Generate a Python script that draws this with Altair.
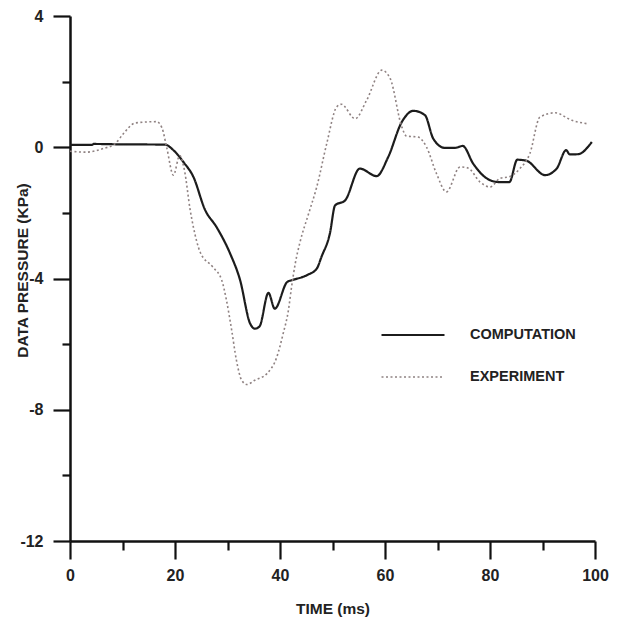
import altair as alt
import pandas as pd

# ---- data ----
comp_t = [0, 4.2, 4.5, 9, 18.1, 19.7, 21.6, 23.5, 25.7, 27.9, 30.5, 32.4, 34.3, 35.2, 36.1,
          37.8, 39.0, 41.4, 42.3, 45.1, 47.0, 47.9, 49.5, 50.5, 52.4, 55.2, 58.4, 60.6,
          63.2, 65.4, 67.6, 69.2, 71.4, 73.3, 74.8, 76.8, 79.4, 81.6, 83.7, 85.2, 86.9,
          90.5, 92.7, 94.5, 95.2, 96.8, 99.4]
comp_v = [0.07, 0.07, 0.1, 0.09, 0.08, -0.09, -0.45, -0.9, -1.9, -2.43, -3.24, -4.05, -5.37,
          -5.53, -5.46, -4.44, -4.92, -4.1, -4.05, -3.9, -3.7, -3.34, -2.63, -1.77, -1.62,
          -0.65, -0.88, -0.3, 0.77, 1.11, 0.98, 0.26, -0.02, -0.02, 0.04, -0.5, -0.95,
          -1.06, -1.06, -0.38, -0.41, -0.85, -0.65, -0.09, -0.22, -0.21, 0.16]

exp_t = [0, 3, 6.3, 8.6, 10.2, 12.4, 16.5, 17.5, 18.4, 19.7, 20.9, 21.8, 22.9, 23.5, 24.8,
         27.2, 28.9, 29.8, 30.8, 31.7, 32.7, 33.7, 35.2, 37.5, 39.4, 40.6, 41.6, 42.2,
         42.9, 43.8, 45.5, 47.0, 48.9, 50.8, 51.7, 54.3, 56.5, 59.4, 61.0, 63.2, 64.1,
         66.3, 67.9, 69.8, 71.7, 74.3, 75.8, 78.1, 80.0, 81.9, 83.8, 85.7, 87.6, 89.5,
         92.4, 95.6, 98.4]
exp_v = [-0.12, -0.15, -0.04, 0.11, 0.42, 0.74, 0.78, 0.6, 0.01, -0.85, -0.25, -0.7, -1.92,
         -2.43, -3.2, -3.65, -4.05, -4.66, -5.58, -6.49, -7.1, -7.23, -7.1, -6.9, -6.39,
         -5.68, -4.97, -4.26, -3.55, -2.9, -2.0, -1.21, 0.11, 1.23, 1.31, 0.87, 1.43, 2.35,
         2.09, 0.62, 0.34, 0.31, 0.01, -0.8, -1.36, -0.6, -0.63, -1.06, -1.21, -0.95,
         -0.89, -0.65, -0.19, 0.92, 1.05, 0.82, 0.72]

series_names = ["COMPUTATION", "EXPERIMENT"]
x_ticks = [0, 10, 20, 30, 40, 50, 60, 70, 80, 90, 100]
y_ticks = [4, 2, 0, -2, -4, -6, -8, -10, -12]

rows = []
for i, (t, v) in enumerate(zip(comp_t, comp_v)):
    rows.append({"t": t, "v": v, "series": series_names[0], "i": i})
for i, (t, v) in enumerate(zip(exp_t, exp_v)):
    rows.append({"t": t, "v": v, "series": series_names[1], "i": i})
df = pd.DataFrame(rows)

tick_font = "Liberation Sans"

x_axis = alt.Axis(
    values=x_ticks,
    title="TIME (ms)",
    grid=False,
    domainColor="#111",
    domainWidth=2.5,
    tickColor="#111",
    tickWidth=2.2,
    tickSize={"condition": {"test": "datum.value % 20 === 0", "value": 18}, "value": 9},
    labelExpr="datum.value % 20 === 0 ? datum.label : ''",
    labelFont=tick_font,
    labelFontWeight="bold",
    labelFontSize=16,
    labelColor="#222",
    labelPadding=8,
    labelBaseline="top",
    labelFlush=False,
    titleFont="Liberation Sans",
    titleFontWeight="bold",
    titleFontSize=15.5,
    titleColor="#222",
    titleBaseline="alphabetic",
    titleY=72,
)

y_axis = alt.Axis(
    values=y_ticks,
    title="DATA PRESSURE (KPa)",
    grid=False,
    domainColor="#111",
    domainWidth=2.5,
    tickColor="#111",
    tickWidth=2.2,
    tickSize={"condition": {"test": "datum.value % 4 === 0", "value": 17}, "value": 8},
    labelExpr="datum.value % 4 === 0 ? '' + datum.value : ''",
    labelFont=tick_font,
    labelFontWeight="bold",
    labelFontSize=16,
    labelColor="#222",
    labelPadding=10,
    labelFlush=False,
    titleFont="Liberation Sans",
    titleFontWeight="bold",
    titleFontSize=15.5,
    titleColor="#222",
    titleAngle=-90,
    titleBaseline="alphabetic",
    titleX=-43,
    titleY=254,
    titleAlign="center",
)

legend = alt.Legend(
    title=None,
    orient="none",
    legendX=310,
    legendY=309,
    padding=0,
    symbolType="stroke",
    symbolSize=3969,
    clipHeight=20,
    rowPadding=22,
    labelOffset=24,
    labelFont="Liberation Sans",
    labelFontWeight="bold",
    labelFontSize=14.5,
    labelColor="#222",
)

chart = alt.Chart(df).mark_line(strokeCap="butt", interpolate="monotone").encode(
    x=alt.X("t:Q", scale=alt.Scale(domain=[0, 100], nice=False, zero=False), axis=x_axis),
    y=alt.Y("v:Q", scale=alt.Scale(domain=[-12, 4], nice=False, zero=False), axis=y_axis),
    color=alt.Color("series:N", scale=alt.Scale(domain=series_names, range=["#1c1c1c", "#8f8282"]), legend=legend),
    strokeDash=alt.StrokeDash("series:N", scale=alt.Scale(domain=series_names, range=[[1, 0], [2, 2.5]]), legend=legend),
    strokeWidth=alt.StrokeWidth("series:N", scale=alt.Scale(domain=series_names, range=[2.2, 1.6]), legend=legend),
    order="i:Q",
).properties(
    width=525,
    height=525,
    autosize=alt.AutoSizeParams(type="none"),
    padding={"left": 70, "top": 16, "right": 29, "bottom": 78},
    background="white",
).configure_view(stroke=None)

chart.save("out.html", embed_options={"renderer": "svg", "actions": False})
